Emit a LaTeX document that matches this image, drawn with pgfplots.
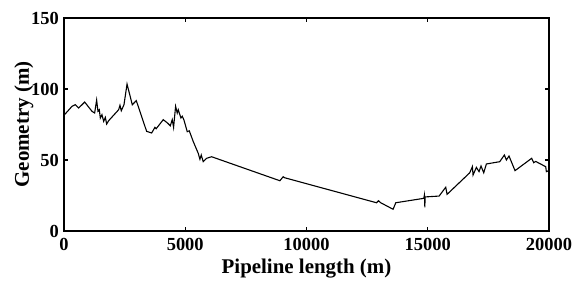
\documentclass[border=0pt]{standalone}
\usepackage{pgfplots}
\pgfplotsset{compat=1.18}
\usepackage{fontspec}
\setmainfont{Liberation Serif}
\begin{document}
\begin{tikzpicture}
\begin{axis}[
  scale only axis,
  width=485bp, height=213bp,
  xmin=0, xmax=20000, ymin=0, ymax=150,
  xtick={0,5000,10000,15000,20000},
  ytick={0,50,100,150},
  scaled x ticks=false,
  xticklabel style={/pgf/number format/1000 sep={}},
  /pgf/number format/assume math mode=true,
  tick align=inside,
  major tick length=4bp,
  tick style={line width=1.2bp, black},
  axis line style={line width=1.6bp},
  ticklabel style={font=\fontsize{18.5}{19}\selectfont\bfseries, inner sep=0.5bp},
  xticklabel style={yshift=-7bp},
  yticklabel style={xshift=-4.5bp},
  xlabel={Pipeline length (m)},
  ylabel={Geometry (m)},
  label style={font=\fontsize{21}{22}\selectfont\bfseries},
  xlabel style={at={(axis description cs:0.5,0)}, anchor=center, yshift=-38bp},
  ylabel style={at={(axis description cs:0,0.5)}, anchor=center, xshift=0bp, yshift=40bp},
]
\addplot[black, line width=1.1bp] coordinates {
(0,81.5) (330,87.8) (466,89) (605,86.6) (853,90.8) (1154,84.3) (1264,83.1)
(1346,92.2) (1401,84.3) (1456,85.4) (1497,79.6) (1566,81.9) (1636,77.2)
(1704,80) (1759,75.3) (1842,77.7) (2254,85.4) (2308,88.5) (2363,84.7)
(2473,88.9) (2600,103.5) (2816,88.9) (2981,91.8) (3407,70.2) (3614,69)
(3750,73) (3800,72) (4093,78.4) (4272,76) (4382,74.1) (4464,78.4) (4519,73)
(4602,87.8) (4670,83.1) (4712,85.4) (4781,81.7) (4822,79.6) (4877,80.8)
(4946,78.2) (5083,69.9) (5165,70.6) (5330,63) (5536,54.7) (5605,50.5)
(5660,53.5) (5742,48.8) (5880,51.2) (6087,52.3) (8902,35.4) (9039,38.2)
(9100,37.5) (12886,19.9) (12968,21.3) (13050,20) (13571,15.3) (13682,19.9)
(14836,23) (14864,25.4) (14880,16.7) (14891,24) (15467,24.6) (15742,30.8)
(15797,25.8) (16731,41) (16841,45.3) (16868,39.4) (17005,44.8) (17115,41.8)
(17197,45.8) (17308,41) (17418,47.2) (17967,48.8) (18160,53.5) (18243,50)
(18351,52.8) (18599,42.5) (19286,51.2) (19369,48.1) (19450,49) (19864,45.3)
(19892,41.8) (20000,42.6)
};
\end{axis}
\path ([shift={(-64bp,-47bp)}]current axis.south west) rectangle ([shift={(25bp,18bp)}]current axis.north east);
\end{tikzpicture}
\end{document}
